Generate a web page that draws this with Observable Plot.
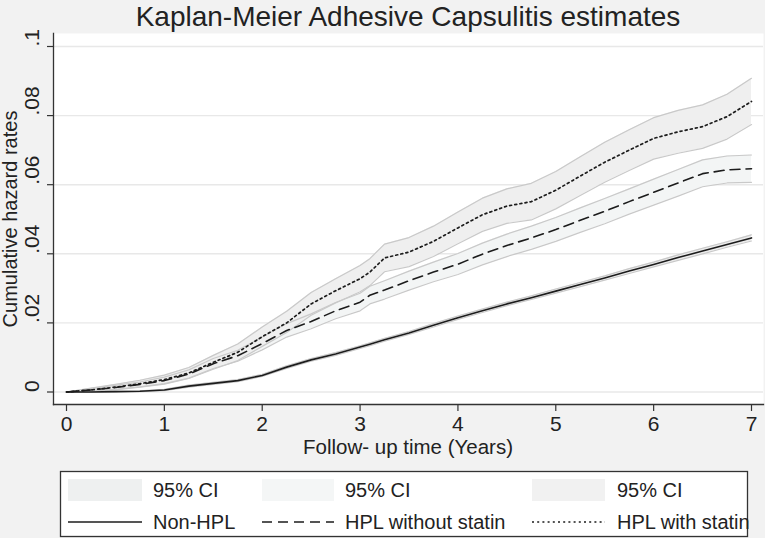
<!DOCTYPE html>
<html><head><meta charset="utf-8">
<script src="https://cdn.jsdelivr.net/npm/d3@7"></script>
<script src="https://cdn.jsdelivr.net/npm/@observablehq/plot@0.6"></script>
<style>
html,body{margin:0;padding:0;background:#f2f2f2;}
#chart{width:765px;height:538px;}
</style></head><body><div id="chart"></div>
<script>
const times = [0, 0.25, 0.5, 0.75, 1, 1.25, 1.5, 1.75, 2, 2.25, 2.5, 2.75, 3, 3.1, 3.25, 3.5, 3.75, 4, 4.25, 4.5, 4.75, 5, 5.25, 5.5, 5.75, 6, 6.25, 6.5, 6.75, 7];

const nonHplEst = [0, 0, 0.0001, 0.0002, 0.0006, 0.0017, 0.0025, 0.0033, 0.0048, 0.0072, 0.0093, 0.011, 0.013, 0.0138, 0.0151, 0.0171, 0.0193, 0.0215, 0.0235, 0.0255, 0.0273, 0.0292, 0.0311, 0.033, 0.035, 0.0369, 0.0389, 0.0408, 0.0427, 0.0446];
const nonHplLo = [0, 0, 0, 0.0001, 0.0004, 0.0014, 0.0022, 0.0030, 0.0045, 0.0068, 0.0089, 0.0106, 0.0126, 0.0134, 0.0147, 0.0167, 0.0188, 0.0210, 0.0230, 0.0250, 0.0268, 0.0286, 0.0305, 0.0324, 0.0343, 0.0362, 0.0381, 0.0400, 0.0419, 0.0437];
const nonHplHi = [0, 0.0001, 0.0002, 0.0003, 0.0008, 0.0020, 0.0028, 0.0036, 0.0051, 0.0076, 0.0097, 0.0114, 0.0134, 0.0142, 0.0155, 0.0175, 0.0198, 0.0220, 0.0240, 0.0260, 0.0278, 0.0298, 0.0317, 0.0336, 0.0357, 0.0376, 0.0397, 0.0416, 0.0435, 0.0455];

const noStatinEst = [0, 0.0006, 0.0013, 0.0022, 0.0033, 0.0052, 0.0082, 0.0105, 0.014, 0.0178, 0.0204, 0.0235, 0.026, 0.028, 0.0295, 0.0322, 0.0347, 0.037, 0.0399, 0.0424, 0.0446, 0.047, 0.0497, 0.0523, 0.0551, 0.0578, 0.0605, 0.0632, 0.0643, 0.0646];
const noStatinLo = [0, 0.0002, 0.0008, 0.0015, 0.0024, 0.0040, 0.0068, 0.0089, 0.0122, 0.0159, 0.0183, 0.0212, 0.0235, 0.0255, 0.0269, 0.0295, 0.0319, 0.0340, 0.0368, 0.0392, 0.0413, 0.0436, 0.0462, 0.0487, 0.0515, 0.0541, 0.0567, 0.0594, 0.0605, 0.0607];
const noStatinHi = [0, 0.0010, 0.0019, 0.0029, 0.0043, 0.0064, 0.0097, 0.0121, 0.0159, 0.0198, 0.0226, 0.0259, 0.0286, 0.0306, 0.0322, 0.0350, 0.0376, 0.0401, 0.0431, 0.0457, 0.0480, 0.0505, 0.0533, 0.0560, 0.0588, 0.0616, 0.0644, 0.0672, 0.0683, 0.0686];

const statinEst = [0, 0.0006, 0.0014, 0.0024, 0.0036, 0.0055, 0.0086, 0.0115, 0.016, 0.0200, 0.0255, 0.0293, 0.0328, 0.0347, 0.0388, 0.0405, 0.0436, 0.0475, 0.0513, 0.0538, 0.0551, 0.0584, 0.0625, 0.0665, 0.070, 0.0734, 0.0753, 0.0768, 0.0797, 0.0841];
const statinLo = [0, 0.0001, 0.0006, 0.0014, 0.0023, 0.0039, 0.0066, 0.0091, 0.0132, 0.0172, 0.0222, 0.0258, 0.0290, 0.0308, 0.0348, 0.0363, 0.0392, 0.0429, 0.0465, 0.0488, 0.0498, 0.0530, 0.0569, 0.0607, 0.0641, 0.0674, 0.0691, 0.0705, 0.0732, 0.0774];
const statinHi = [0, 0.0011, 0.0022, 0.0034, 0.0049, 0.0071, 0.0106, 0.0139, 0.0188, 0.0234, 0.0288, 0.0328, 0.0366, 0.0386, 0.0428, 0.0447, 0.0480, 0.0521, 0.0561, 0.0588, 0.0604, 0.0638, 0.0681, 0.0723, 0.0759, 0.0794, 0.0815, 0.0831, 0.0862, 0.0908];

const xTicks = [0, 1, 2, 3, 4, 5, 6, 7];
const yTicks = [0, 0.02, 0.04, 0.06, 0.08, 0.1];
const yTickLabels = ["0", ".02", ".04", ".06", ".08", ".1"];

const seriesNames = ["Non-HPL", "HPL without statin", "HPL with statin"];
const ciLabel = "95% CI";
const titleText = "Kaplan-Meier Adhesive Capsulitis estimates";
const xLabel = "Follow- up time (Years)";
const yLabel = "Cumulative hazard rates";

const FONT = "Liberation Sans, Arial, Helvetica, sans-serif";
const INK = "#1c1c1c";
const TXT = "#222";
const bandFills = ["#ececec", "#f3f5f5", "#efefef"];
const bandSwatch = ["#eef0f0", "#f4f6f6", "#f1f1f1"];
const dashes = [null, "10,6", "2,3.2"];

const rows = (est, lo, hi) => times.map((t, i) => ({t, est: est[i], lo: lo[i], hi: hi[i]}));
const series = [
  rows(nonHplEst, nonHplLo, nonHplHi),
  rows(noStatinEst, noStatinLo, noStatinHi),
  rows(statinEst, statinLo, statinHi)
];

const bandMarks = [];
series.forEach((d, i) => {
  bandMarks.push(Plot.areaY(d, {x: "t", y1: "lo", y2: "hi", fill: bandFills[i]}));
});
series.forEach((d, i) => {
  bandMarks.push(Plot.line(d, {x: "t", y: "lo", stroke: "#c9c9c9", strokeWidth: 1.2}));
  bandMarks.push(Plot.line(d, {x: "t", y: "hi", stroke: "#c9c9c9", strokeWidth: 1.2}));
});
const lineMarks = series.map((d, i) => Plot.line(d, {
  x: "t", y: "est", stroke: INK, strokeWidth: i === 2 ? 1.7 : 1.6,
  strokeDasharray: dashes[i]
}));

const W = 765, H = 538;
const svgEl = Plot.plot({
  width: W, height: H,
  marginTop: 33, marginLeft: 53, marginRight: 2, marginBottom: 134,
  insetTop: 13, insetBottom: 12.5, insetLeft: 13, insetRight: 12,
  style: {background: "#f2f2f2", fontFamily: FONT, fontSize: "21px", color: TXT},
  x: {domain: [0, 7]},
  y: {domain: [0, 0.1]},
  marks: [
    Plot.frame({fill: "white", stroke: null}),
    Plot.gridY(yTicks, {stroke: "#e8e8e8", strokeOpacity: 1, strokeWidth: 1.4}),
    ...bandMarks,
    ...lineMarks,
    Plot.frame({anchor: "left", stroke: "#333", strokeWidth: 1.3}),
    Plot.frame({anchor: "bottom", stroke: "#333", strokeWidth: 1.3}),
    Plot.axisX(xTicks, {tickSize: 7, tickPadding: 5, fontSize: 21, label: null, stroke: "#333", strokeWidth: 1.2, fill: TXT}),
    Plot.axisY(yTicks, {tickSize: 6, tickFormat: () => "", label: null, stroke: "#333", strokeWidth: 1.2}),
    Plot.text(yTicks, {y: d => d, text: (d, i) => yTickLabels[i], frameAnchor: "left", dx: -21, rotate: -90, fontSize: 21, fill: TXT})
  ]
});
document.getElementById("chart").appendChild(svgEl);

const svg = d3.select(svgEl);
const addText = (sel, x, y, size, txt, anchor) => sel.append("text")
  .attr("x", x).attr("y", y).attr("text-anchor", anchor)
  .attr("font-family", FONT).attr("font-size", size).attr("fill", TXT).text(txt);

addText(svg, 408, 25.5, 28, titleText, "middle");
addText(svg, 408, 454, 20.5, xLabel, "middle");
svg.append("text").attr("transform", "translate(17,219) rotate(-90)").attr("text-anchor", "middle")
  .attr("font-family", FONT).attr("font-size", 20).attr("fill", TXT).text(yLabel);

// legend
const lg = svg.append("g");
lg.append("rect").attr("x", 60.5).attr("y", 471.5).attr("width", 687).attr("height", 65)
  .attr("fill", "white").attr("stroke", "#333").attr("stroke-width", 1.3);
const cols = [{x0: 68, x1: 142, tx: 153}, {x0: 262, x1: 334, tx: 345}, {x0: 532, x1: 605, tx: 617}];
cols.forEach((c, i) => {
  lg.append("rect").attr("x", c.x0).attr("y", 479).attr("width", c.x1 - c.x0).attr("height", 22).attr("fill", bandSwatch[i]);
  addText(lg, c.tx, 497, 20, ciLabel, "start");
  const ln = lg.append("line").attr("x1", c.x0).attr("x2", c.x1).attr("y1", 522).attr("y2", 522)
    .attr("stroke", INK).attr("stroke-width", 1.5);
  if (dashes[i]) ln.attr("stroke-dasharray", dashes[i]);
  addText(lg, c.tx, 529, 20, seriesNames[i], "start");
});
</script></body></html>
